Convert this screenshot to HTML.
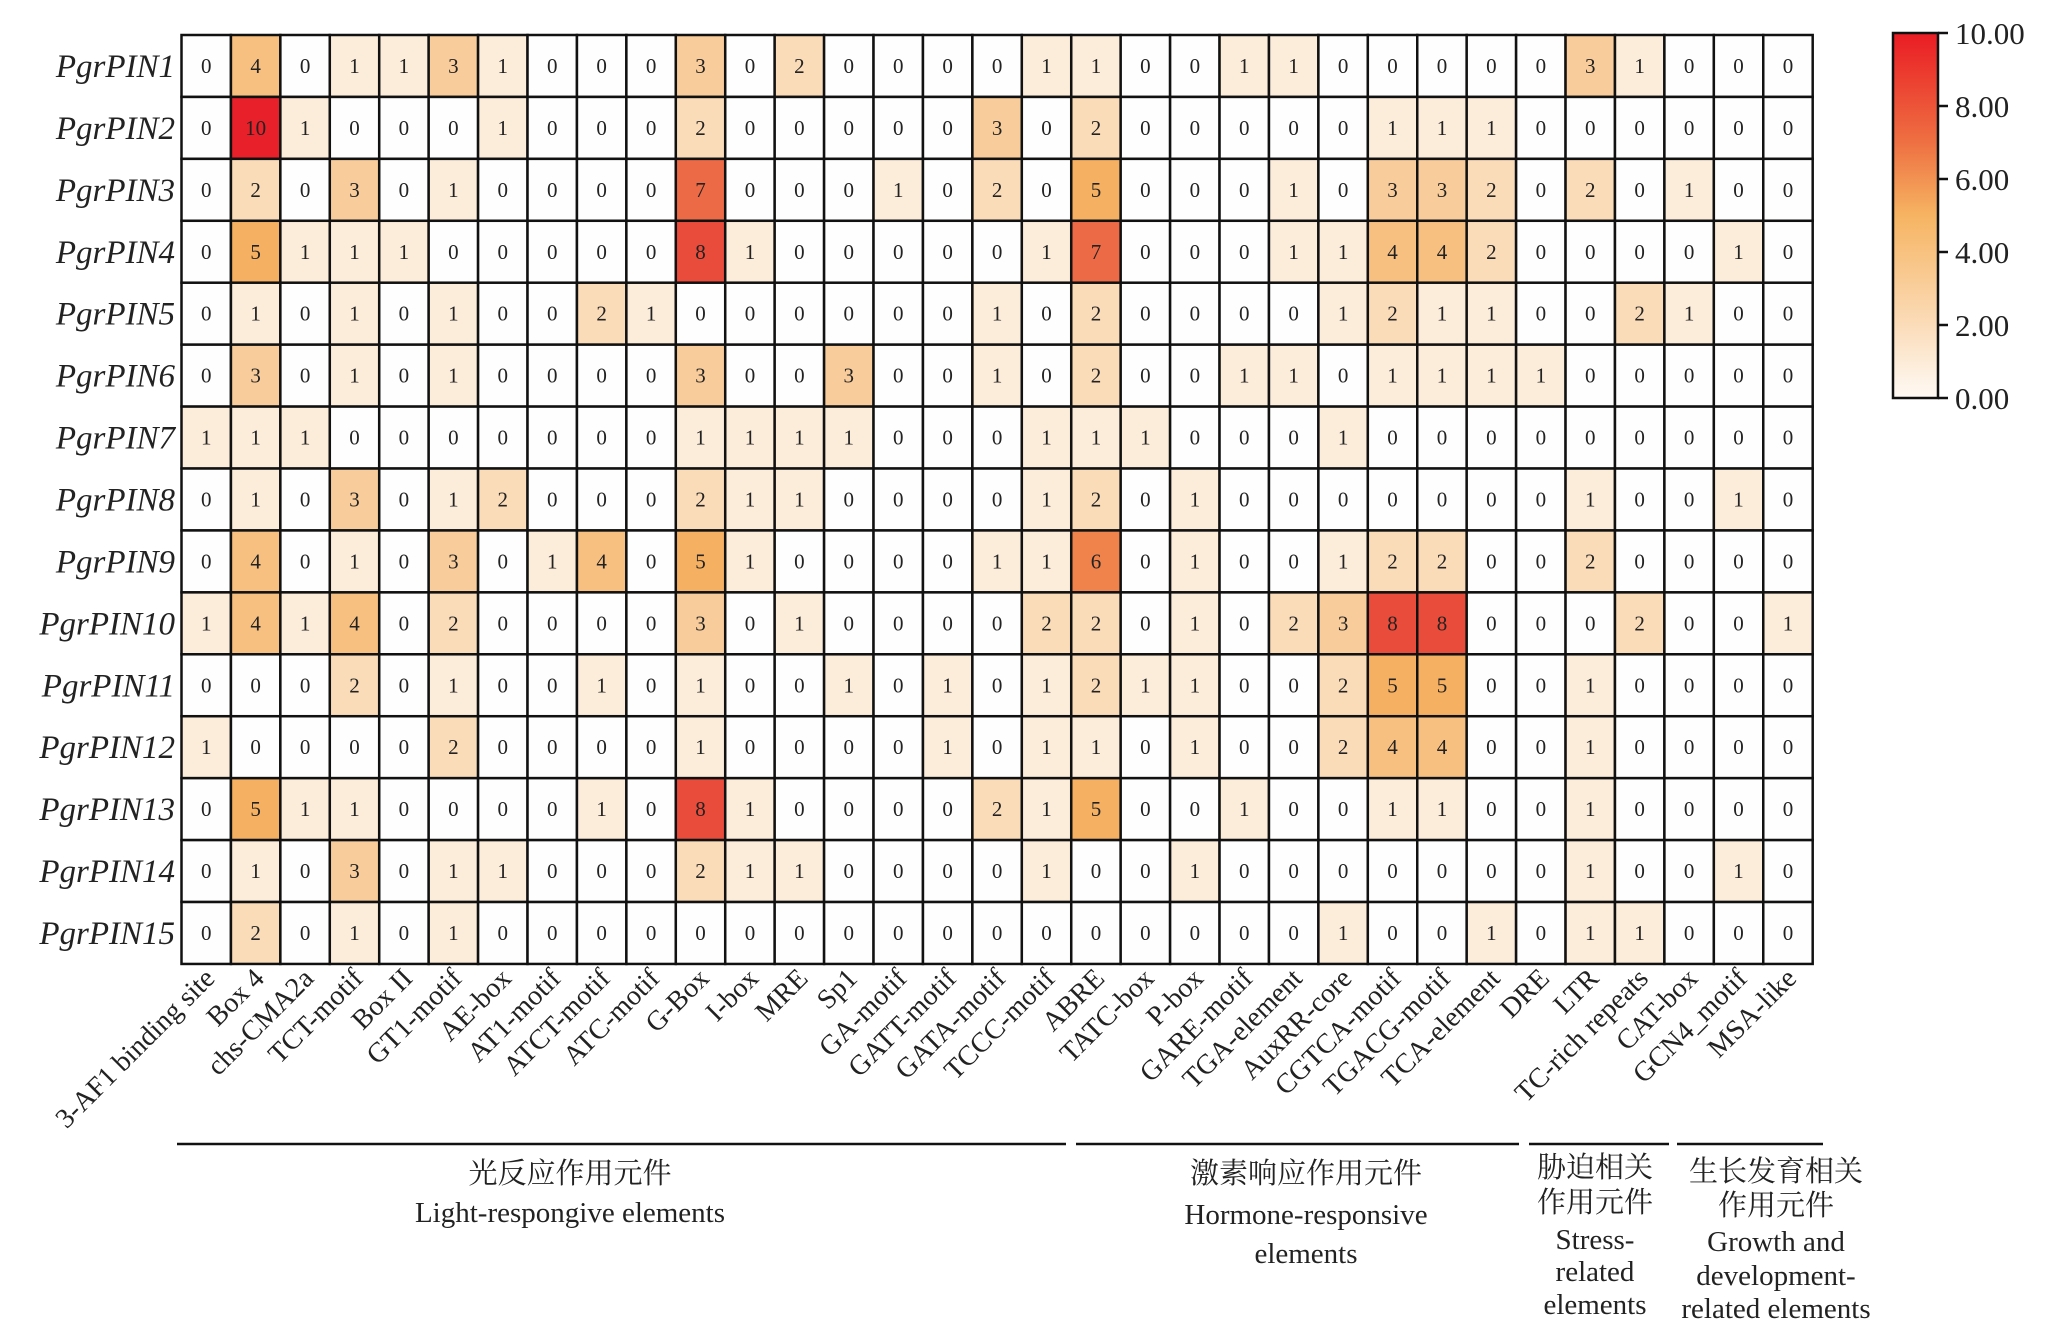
<!DOCTYPE html>
<html><head><meta charset="utf-8">
<style>html,body{margin:0;padding:0;background:#fff;}svg{display:block;}</style>
</head><body>
<svg id="s" width="2055" height="1334" xmlns="http://www.w3.org/2000/svg" font-family="'Liberation Serif','Noto Serif CJK SC',serif">
<defs>
<linearGradient id="cb" x1="0" y1="1" x2="0" y2="0">
<stop offset="0" stop-color="#fefaf5"/>
<stop offset="0.2" stop-color="#fbdcb9"/>
<stop offset="0.5" stop-color="#f6b462"/>
<stop offset="0.7" stop-color="#ee7042"/>
<stop offset="1" stop-color="#ea1c24"/>
</linearGradient>
</defs>
<g id="g"></g>
<rect x="1893" y="33" width="45" height="365" fill="url(#cb)" stroke="#111" stroke-width="2.5"/>
<g stroke="#111" stroke-width="2.5">
<line x1="1938" y1="33" x2="1948" y2="33"/><line x1="1938" y1="106" x2="1948" y2="106"/><line x1="1938" y1="179" x2="1948" y2="179"/><line x1="1938" y1="252" x2="1948" y2="252"/><line x1="1938" y1="325" x2="1948" y2="325"/><line x1="1938" y1="398" x2="1948" y2="398"/>
</g>
<g font-size="31" fill="#222">
<text x="1955" y="44">10.00</text><text x="1955" y="117">8.00</text><text x="1955" y="190">6.00</text><text x="1955" y="263">4.00</text><text x="1955" y="336">2.00</text><text x="1955" y="409">0.00</text>
</g>
<g stroke="#111" stroke-width="2.5">
<line x1="177" y1="1144" x2="1066" y2="1144"/>
<line x1="1076" y1="1144" x2="1519" y2="1144"/>
<line x1="1529" y1="1144" x2="1669" y2="1144"/>
<line x1="1677" y1="1144" x2="1823" y2="1144"/>
</g>
<g font-size="29" fill="#222" text-anchor="middle">
<text x="570" y="1183">光反应作用元件</text>
<text x="570" y="1222">Light-respongive elements</text>
<text x="1306" y="1183">激素响应作用元件</text>
<text x="1306" y="1224">Hormone-responsive</text>
<text x="1306" y="1263">elements</text>
<text x="1595" y="1177">胁迫相关</text>
<text x="1595" y="1212">作用元件</text>
<text x="1595" y="1249">Stress-</text>
<text x="1595" y="1281">related</text>
<text x="1595" y="1314">elements</text>
<text x="1776" y="1181">生长发育相关</text>
<text x="1776" y="1215">作用元件</text>
<text x="1776" y="1251">Growth and</text>
<text x="1776" y="1285">development-</text>
<text x="1776" y="1318">related elements</text>
</g>
</svg>
<script>
var cols=["3-AF1 binding site","Box 4","chs-CMA2a","TCT-motif","Box II","GT1-motif","AE-box","AT1-motif","ATCT-motif","ATC-motif","G-Box","I-box","MRE","Sp1","GA-motif","GATT-motif","GATA-motif","TCCC-motif","ABRE","TATC-box","P-box","GARE-motif","TGA-element","AuxRR-core","CGTCA-motif","TGACG-motif","TCA-element","DRE","LTR","TC-rich repeats","CAT-box","GCN4_motif","MSA-like"];
var d=[
"0 4 0 1 1 3 1 0 0 0 3 0 2 0 0 0 0 1 1 0 0 1 1 0 0 0 0 0 3 1 0 0 0",
"0 10 1 0 0 0 1 0 0 0 2 0 0 0 0 0 3 0 2 0 0 0 0 0 1 1 1 0 0 0 0 0 0",
"0 2 0 3 0 1 0 0 0 0 7 0 0 0 1 0 2 0 5 0 0 0 1 0 3 3 2 0 2 0 1 0 0",
"0 5 1 1 1 0 0 0 0 0 8 1 0 0 0 0 0 1 7 0 0 0 1 1 4 4 2 0 0 0 0 1 0",
"0 1 0 1 0 1 0 0 2 1 0 0 0 0 0 0 1 0 2 0 0 0 0 1 2 1 1 0 0 2 1 0 0",
"0 3 0 1 0 1 0 0 0 0 3 0 0 3 0 0 1 0 2 0 0 1 1 0 1 1 1 1 0 0 0 0 0",
"1 1 1 0 0 0 0 0 0 0 1 1 1 1 0 0 0 1 1 1 0 0 0 1 0 0 0 0 0 0 0 0 0",
"0 1 0 3 0 1 2 0 0 0 2 1 1 0 0 0 0 1 2 0 1 0 0 0 0 0 0 0 1 0 0 1 0",
"0 4 0 1 0 3 0 1 4 0 5 1 0 0 0 0 1 1 6 0 1 0 0 1 2 2 0 0 2 0 0 0 0",
"1 4 1 4 0 2 0 0 0 0 3 0 1 0 0 0 0 2 2 0 1 0 2 3 8 8 0 0 0 2 0 0 1",
"0 0 0 2 0 1 0 0 1 0 1 0 0 1 0 1 0 1 2 1 1 0 0 2 5 5 0 0 1 0 0 0 0",
"1 0 0 0 0 2 0 0 0 0 1 0 0 0 0 1 0 1 1 0 1 0 0 2 4 4 0 0 1 0 0 0 0",
"0 5 1 1 0 0 0 0 1 0 8 1 0 0 0 0 2 1 5 0 0 1 0 0 1 1 0 0 1 0 0 0 0",
"0 1 0 3 0 1 1 0 0 0 2 1 1 0 0 0 0 1 0 0 1 0 0 0 0 0 0 0 1 0 0 1 0",
"0 2 0 1 0 1 0 0 0 0 0 0 0 0 0 0 0 0 0 0 0 0 0 1 0 0 1 0 1 1 0 0 0"];
var stops=[[0,[254,254,254]],[1,[252,236,218]],[2,[251,220,185]],[3,[249,205,155]],[4,[247,192,128]],[5,[246,176,98]],[6,[240,130,76]],[7,[237,106,70]],[8,[233,76,58]],[10,[232,32,42]]];
function col(v){for(var i=0;i<stops.length-1;i++){var a=stops[i],b=stops[i+1];if(v<=b[0]){var t=(v-a[0])/(b[0]-a[0]);return "rgb("+a[1].map(function(c,k){return Math.round(c+(b[1][k]-c)*t)}).join(",")+")";}}return "rgb(232,32,42)";}
var L=181.5,T=35,W=49.43,H=61.93,h="";
for(var r=0;r<15;r++){var v=d[r].split(" ");for(var c=0;c<33;c++){var x=L+c*W,y=T+r*H,n=+v[c];
h+='<rect x="'+x+'" y="'+y+'" width="'+W+'" height="'+H+'" fill="'+col(n)+'" stroke="#111" stroke-width="2.5"/>';
h+='<text x="'+(x+W/2)+'" y="'+(y+H/2+7)+'" font-size="21" text-anchor="middle" fill="#222">'+n+'</text>';}
h+='<text x="175" y="'+(T+r*H+H/2+11)+'" font-size="33" font-style="italic" text-anchor="end" fill="#222">PgrPIN'+(r+1)+'</text>';}
for(var c=0;c<33;c++){var x=L+c*W+W/2+10,y=T+15*H+16;
h+='<text transform="translate('+x+','+y+') rotate(-45)" font-size="28" text-anchor="end" fill="#222">'+cols[c]+'</text>';}
document.getElementById("g").innerHTML=h;
</script>
</body></html>
